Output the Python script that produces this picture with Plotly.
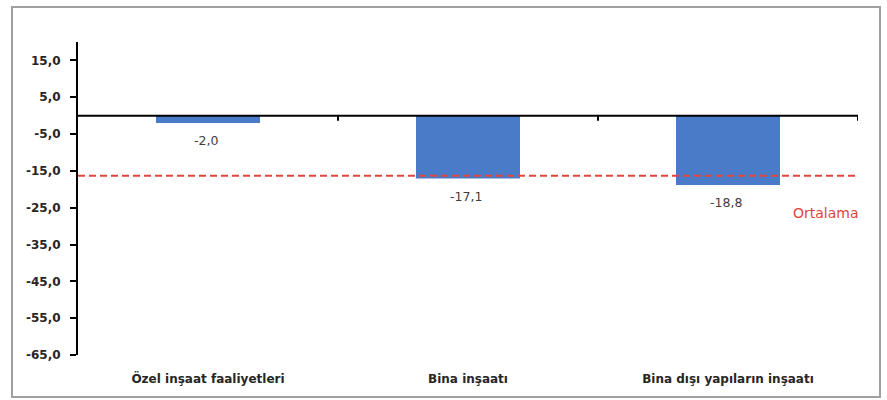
import plotly.graph_objects as go

categories = ["Özel inşaat faaliyetleri", "Bina inşaatı", "Bina dışı yapıların inşaatı"]
values = [-2.0, -17.1, -18.8]
average_value = -16.3
average_label = "Ortalama"
y_tickvals = [15, 5, -5, -15, -25, -35, -45, -55, -65]
y_range = [-65, 20]

W, H = 887, 400
ML, MR, MT, MB = 78, 29, 42, 45
PW, PH = W - ML - MR, H - MT - MB

def px_x(p):
    return (p - ML) / PW

def px_y(p):
    return (H - MB - p) / PH

def fmt(v):
    return f"{v:.1f}".replace(".", ",")

bar_color = "#4a7bc8"
red = "#e0453a"
font_fam = "DejaVu Sans, Verdana, sans-serif"

fig = go.Figure()
fig.add_trace(go.Bar(
    x=list(range(len(categories))), y=values,
    marker=dict(color=bar_color, line=dict(width=0)),
    width=0.4, showlegend=False, hoverinfo="skip",
))

# data labels below bars
for i, v in enumerate(values):
    fig.add_annotation(
        x=i, y=v, text=fmt(v), showarrow=False,
        yanchor="top", yshift=-8, xshift=-2,
        font=dict(family=font_fam, size=12.5, color="#404040"),
    )

# average dashed line
fig.add_shape(type="line", xref="x", yref="y",
              x0=-0.5, x1=len(categories) - 0.5, y0=average_value, y1=average_value,
              line=dict(color=red, width=2, dash="7px,4px"))
fig.add_annotation(
    x=px_x(826), xref="paper", xanchor="center", y=average_value, yref="y", yshift=-37,
    text=average_label, showarrow=False,
    font=dict(family=font_fam, size=14, color=red),
)

# zero line
fig.add_shape(type="line", xref="x", yref="y",
              x0=-0.5, x1=len(categories) - 0.5, y0=0, y1=0,
              line=dict(color="#000000", width=2))
# category boundary tick marks on the zero line
for b in range(1, len(categories) + 1):
    fig.add_shape(type="line", xref="x", yref="y", ysizemode="pixel", yanchor=0,
                  x0=b - 0.5, x1=b - 0.5, y0=0, y1=-5,
                  line=dict(color="#000000", width=2))

# outer chart border
fig.add_shape(type="rect", xref="paper", yref="paper",
              x0=px_x(12), x1=px_x(880), y0=px_y(397), y1=px_y(7),
              line=dict(color="#a0a0a0", width=2), layer="below")

fig.update_layout(
    width=W, height=H,
    margin=dict(l=ML, r=MR, t=MT, b=MB, pad=0),
    paper_bgcolor="#ffffff", plot_bgcolor="#ffffff",
    showlegend=False,
    xaxis=dict(
        range=[-0.5, len(categories) - 0.5],
        tickmode="array", tickvals=list(range(len(categories))), ticktext=categories,
        showline=False, showgrid=False, zeroline=False, ticks="",
        tickfont=dict(family=font_fam, size=12, color="#262626", weight="bold"),
        ticklabelstandoff=15,
        fixedrange=True,
    ),
    yaxis=dict(
        range=y_range, tickmode="array", tickvals=y_tickvals,
        ticktext=[fmt(v) for v in y_tickvals],
        showline=True, linecolor="#000000", linewidth=2,
        ticks="outside", ticklen=6, tickwidth=2, tickcolor="#000000",
        showgrid=False, zeroline=False,
        tickfont=dict(family=font_fam, size=12, color="#262626", weight="bold"),
        ticklabelstandoff=7,
        fixedrange=True,
    ),
)

fig.write_html("out.html", post_script="document.body.style.margin='0';",
               config={"displayModeBar": False})
